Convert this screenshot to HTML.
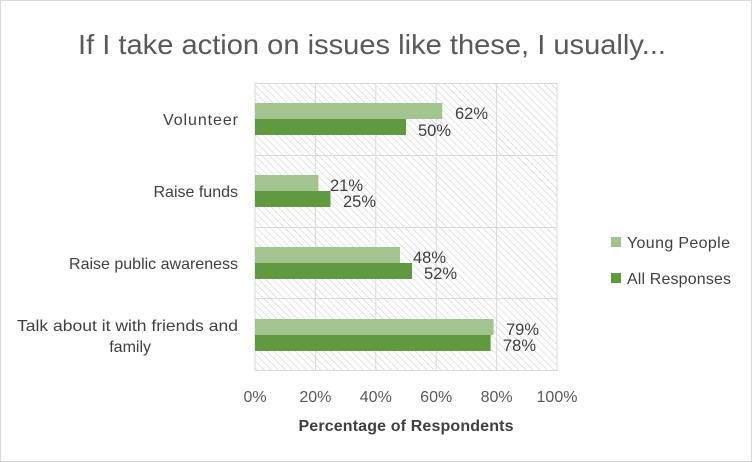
<!DOCTYPE html>
<html><head><style>
html,body{margin:0;padding:0;background:#fff}
svg{display:block;font-family:"Liberation Sans",sans-serif}
</style></head><body>
<svg width="752" height="462" viewBox="0 0 752 462">
<defs>
<pattern id="h" width="5" height="5" patternUnits="userSpaceOnUse" patternTransform="rotate(-45)">
<rect width="5" height="5" fill="#fff"/>
<line x1="0" y1="0" x2="0" y2="5" stroke="#c8c8c8" stroke-width="1"/>
</pattern>
</defs>
<rect x="0.5" y="0.5" width="751" height="461" fill="#fff" stroke="#d9d9d9"/>
<text x="372" y="54" text-anchor="middle" font-size="28" fill="#595959" textLength="588" lengthAdjust="spacingAndGlyphs">If I take action on issues like these, I usually...</text>
<rect x="255" y="83" width="302" height="288" fill="url(#h)"/>
<g stroke="#d9d9d9" stroke-width="1">
<line x1="255" y1="83.5" x2="557" y2="83.5"/>
<line x1="255" y1="155.5" x2="557" y2="155.5"/>
<line x1="255" y1="227.5" x2="557" y2="227.5"/>
<line x1="255" y1="298.5" x2="557" y2="298.5"/>
<line x1="255" y1="370.5" x2="557" y2="370.5"/>
<line x1="255" y1="83" x2="255" y2="371"/>
<line x1="315.4" y1="83" x2="315.4" y2="371"/>
<line x1="375.8" y1="83" x2="375.8" y2="371"/>
<line x1="436.2" y1="83" x2="436.2" y2="371"/>
<line x1="496.6" y1="83" x2="496.6" y2="371"/>
<line x1="557" y1="83" x2="557" y2="371"/>
</g>
<g>
<rect x="255" y="103" width="187.2" height="16" fill="#a2c590"/>
<rect x="255" y="119" width="151" height="16" fill="#5f9940"/>
<rect x="255" y="175" width="63.4" height="16" fill="#a2c590"/>
<rect x="255" y="191" width="75.5" height="16" fill="#5f9940"/>
<rect x="255" y="247" width="145" height="16" fill="#a2c590"/>
<rect x="255" y="263" width="157" height="16" fill="#5f9940"/>
<rect x="255" y="319" width="238.6" height="16" fill="#a2c590"/>
<rect x="255" y="335" width="235.6" height="16" fill="#5f9940"/>
</g>
<g font-size="16.5" fill="#404040">
<text x="455" y="119">62%</text>
<text x="418" y="136">50%</text>
<text x="330" y="191">21%</text>
<text x="343" y="207">25%</text>
<text x="413" y="263">48%</text>
<text x="424" y="279">52%</text>
<text x="506" y="335">79%</text>
<text x="503" y="351">78%</text>
</g>
<g font-size="16" fill="#404040" text-anchor="end">
<text x="238" y="125" textLength="75">Volunteer</text>
<text x="238" y="197">Raise funds</text>
<text x="238" y="269">Raise public awareness</text>
<text x="238" y="331" textLength="221" lengthAdjust="spacingAndGlyphs">Talk about it with friends and</text>
<text x="151" y="352">family</text>
</g>
<g font-size="16" fill="#595959" text-anchor="middle">
<text x="255" y="402">0%</text>
<text x="315.4" y="402">20%</text>
<text x="375.8" y="402">40%</text>
<text x="436.2" y="402">60%</text>
<text x="496.6" y="402">80%</text>
<text x="557" y="402">100%</text>
</g>
<text x="406" y="431" text-anchor="middle" font-size="16" font-weight="bold" fill="#404040" textLength="215">Percentage of Respondents</text>
<rect x="611" y="237" width="10" height="10" fill="#a2c590"/>
<text x="627" y="248" font-size="16" fill="#404040" textLength="103">Young People</text>
<rect x="611" y="273" width="10" height="10" fill="#5f9940"/>
<text x="627" y="284" font-size="16" fill="#404040" textLength="104">All Responses</text>
</svg>
</body></html>
